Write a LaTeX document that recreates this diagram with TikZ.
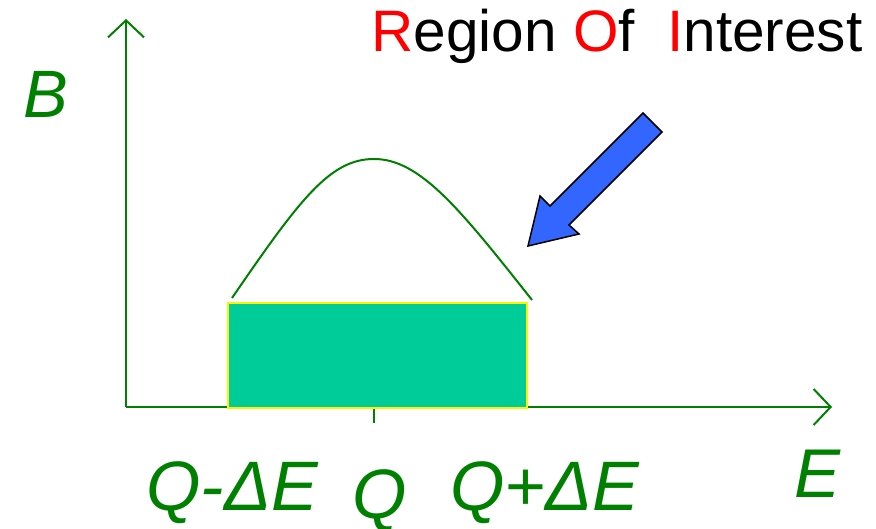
\documentclass[tikz,border=0pt]{standalone}
\usepackage{fontspec}
\setmainfont{Liberation Sans}
\usepackage{xcolor}
\usetikzlibrary{arrows.meta}
\definecolor{axisgreen}{RGB}{0,128,0}
\definecolor{roifill}{RGB}{0,204,153}
\definecolor{pointblue}{RGB}{51,102,255}

\begin{document}
\begin{tikzpicture}[x=1pt, y=1pt, line width=2pt,
  axis/.style={draw=axisgreen, -{Straight Barb[length=17pt, width=36pt, line width=2pt]}},
  lbl/.style={text=axisgreen, inner sep=0pt, anchor=base, font=\fontsize{70}{80}\selectfont\itshape}]
\useasboundingbox (0,0) rectangle (876,529);
\coordinate (origin) at (126,122);
\coordinate (ytip) at (126,510);
\coordinate (xtip) at (832,122);
\draw[axis] (origin) -- (ytip);
\draw[axis] (origin) -- (xtip);
\draw[axisgreen] (374,122) -- (374,106);
\node (roi) [draw=yellow, fill=roifill, minimum width=299pt, minimum height=105pt, inner sep=0pt] at (377.5,173.5) {};
\draw[axisgreen] (232,231) .. controls (300,330) and (330,370) .. (374,370) .. controls (420,370) and (460,320) .. (532,229);
\draw[fill=pointblue, line width=1.5pt, line join=miter] (643,416) -- (662,397) -- (569,304) -- (579,295) -- (528,283) -- (540,333) -- (550,323) -- cycle;
\node (title) [inner sep=0pt, anchor=base, font=\fontsize{58.5}{62}\selectfont] at (617,477) {\textcolor{red}{R}egion \textcolor{red}{O}f \ \textcolor{red}{I}nterest};
\node (bl) [lbl, font=\fontsize{67}{70}\selectfont\itshape] at (46,411) {B};
\node (el) [lbl, font=\fontsize{69}{70}\selectfont\itshape] at (818,31) {E};
\node (qminus) [lbl] at (232,18) {Q-ΔE};
\node (q) [lbl] at (380,10) {Q};
\node (qplus) [lbl] at (545,18) {Q+ΔE};
\end{tikzpicture}
\end{document}
